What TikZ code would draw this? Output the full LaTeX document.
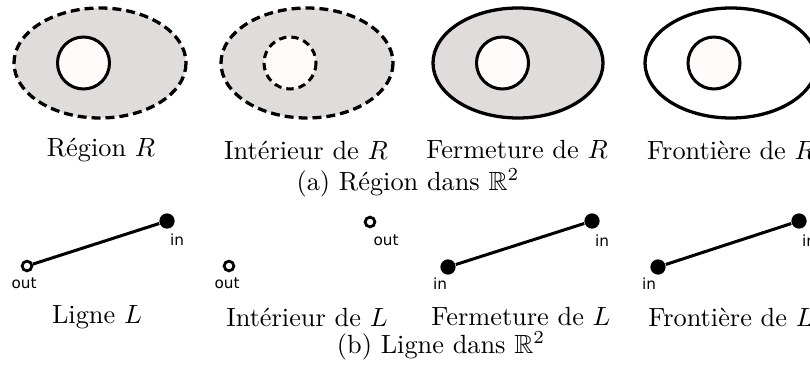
\documentclass[tikz,border=0pt]{standalone}
\usepackage{amssymb}
\usepackage{fontspec}
\newfontfamily\lblfont{DejaVu Sans}
\definecolor{regfill}{RGB}{224,220,220}
\definecolor{holefill}{RGB}{255,251,251}
\tikzset{
  outerline/.style={line width=1.25pt},
  innerline/.style={line width=1.15pt},
  dashouter/.style={dash pattern=on 3.4pt off 1.9pt},
  dashinner/.style={dash pattern=on 2.8pt off 1.9pt},
  lab/.style={inner sep=0pt, font=\normalsize},
  captext/.style={inner sep=0pt, font=\normalsize},
  ptlab/.style={inner sep=0pt, font=\lblfont\fontsize{5.8}{6.5}\selectfont},
  indot/.style={circle, fill=black, inner sep=0pt, minimum size=5.8pt},
  outdot/.style={circle, draw=black, fill=white, line width=1.05pt, inner sep=0pt, minimum size=3.7pt},
  seg/.style={line width=1.15pt}
}
\begin{document}
\begin{tikzpicture}[x=0.38pt,y=-0.38pt]
\clip (0,0) rectangle (810,367);
\fill[white] (0,0) rectangle (810,367);
% --- Region row ---
% Region R
\filldraw[fill=regfill, outerline, dashouter] (100,63) ellipse [x radius=86, y radius=55];
\filldraw[fill=holefill, innerline] (83.5,63) circle [radius=26];
% Interieur de R
\filldraw[fill=regfill, outerline, dashouter] (307,63) ellipse [x radius=86, y radius=55];
\filldraw[fill=holefill, innerline, dashinner] (290,63) circle [radius=26];
% Fermeture de R
\filldraw[fill=regfill, outerline] (518,63) ellipse [x radius=85, y radius=55];
\filldraw[fill=holefill, innerline] (502.5,63) circle [radius=26];
% Frontiere de R
\filldraw[fill=white, outerline] (731,63) ellipse [x radius=86, y radius=55];
\filldraw[fill=holefill, innerline] (714,63) circle [radius=26];

\node[lab] (lR1) at (101,150) {Région $R$};
\node[lab] (lR2) at (306,150) {Intérieur de $R$};
\node[lab] (lR3) at (517,150) {Fermeture de $R$};
\node[lab] (lR4) at (731,150) {Frontière de $R$};
\node[captext] (capa) at (408,183) {(a) Région dans $\mathbb{R}^2$};

% --- Line row ---
% Ligne L
\node[outdot] (a1) at (27,266) {};
\node[indot] (b1) at (167,221) {};
\draw[seg] (a1) -- (b1);
\node[ptlab] (a1l) at (24,283) {out};
\node[ptlab] (b1l) at (177,240) {in};
% Interieur de L
\node[outdot] (a2) at (229,266) {};
\node[outdot] (b2) at (370,222) {};
\node[ptlab] (a2l) at (227,283) {out};
\node[ptlab] (b2l) at (386,240) {out};
% Fermeture de L
\node[indot] (a3) at (448,267) {};
\node[indot] (b3) at (592,221) {};
\draw[seg] (a3) -- (b3);
\node[ptlab] (a3l) at (440,284) {in};
\node[ptlab] (b3l) at (602,241) {in};
% Frontiere de L
\node[indot] (a4) at (658,267) {};
\node[indot] (b4) at (799,221) {};
\draw[seg] (a4) -- (b4);
\node[ptlab] (a4l) at (649,284) {in};
\node[ptlab] (b4l) at (809,241) {in};

\node[lab] (lL1) at (97,317) {Ligne $L$};
\node[lab] (lL2) at (307,317) {Intérieur de $L$};
\node[lab] (lL3) at (521,317) {Fermeture de $L$};
\node[lab] (lL4) at (731,317) {Frontière de $L$};
\node[captext] (capb) at (441,346) {(b) Ligne dans $\mathbb{R}^2$};
\end{tikzpicture}
\end{document}
